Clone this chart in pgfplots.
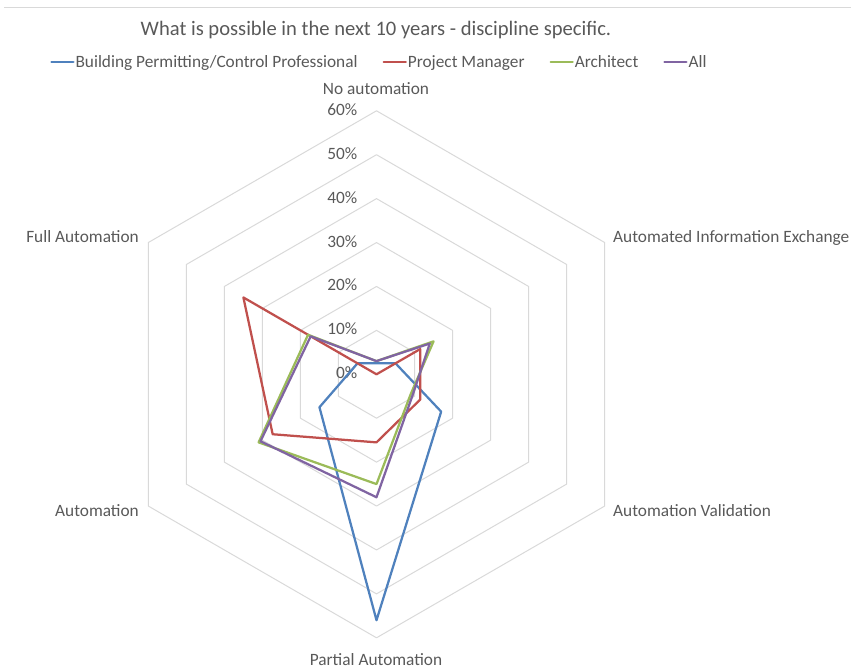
\documentclass[border=0pt]{standalone}
\usepackage{fontspec}
\setmainfont{Carlito}
\usepackage{pgfplots}
\pgfplotsset{compat=1.18}
\usepgfplotslibrary{polar}

\definecolor{bpc}{HTML}{4F81BD}
\definecolor{pmc}{HTML}{C0504D}
\definecolor{arc}{HTML}{9BBB59}
\definecolor{allc}{HTML}{8064A2}
\definecolor{ring}{HTML}{D9D9D9}
\definecolor{txt}{HTML}{595959}

\newcommand{\lbl}{\fontsize{17.3bp}{20bp}\selectfont}
\newcommand{\ttl}{\fontsize{20.6bp}{24bp}\selectfont}
% space after a legend entry
\newcommand{\gap}{\rule{24bp}{0pt}}

\begin{document}
\begin{tikzpicture}[x=1bp,y=1bp]
\useasboundingbox (0,0) rectangle (851,669);
\draw[ring, line width=1bp] (4,661) -- (851,661);

% Radar chart: angle = category direction, radius = share in percent
\begin{polaraxis}[
  at={(376.5bp,294.7bp)}, anchor=center,
  scale only axis, width=527bp, height=527bp,
  xmin=0, xmax=360, ymin=0, ymax=60,
  axis line style={draw=none},
  xtick=\empty, ytick=\empty, grid=none,
  clip=false,
  legend columns=4,
  legend style={draw=none, fill=none, at={(-0.125,1.0922)}, anchor=west,
    font=\lbl, text=txt, nodes={inner xsep=1bp, inner ysep=0bp}},
  legend image code/.code={\draw[#1] (0bp,0bp) -- (22bp,0bp);},
  every axis plot/.append style={line join=round, line cap=round},
]
% hexagonal grid rings
\pgfplotsinvokeforeach{10,20,30,40,50,60}{
  \addplot[ring, line width=1bp, forget plot] coordinates
    {(90,#1) (30,#1) (330,#1) (270,#1) (210,#1) (150,#1) (90,#1)};
}
% radial value labels
\pgfplotsinvokeforeach{0,10,20,30,40,50,60}{
  \node[anchor=base east, inner sep=0pt, text=txt, font=\lbl,
        xshift=-19bp, yshift=-4.5bp] at (axis cs:90,#1) {#1\%};
}
% order of categories: No automation (90), Automated Information Exchange (30),
% Automation Validation (330), Partial Automation (270), Automation (210),
% Full Automation (150)
\addplot[bpc, line width=2.25bp] coordinates
  {(90,2.5) (30,5) (330,17) (270,56) (210,15) (150,5) (90,2.5)};
\addlegendentry{Building Permitting/Control Professional\gap}
\addplot[pmc, line width=2.25bp] coordinates
  {(90,0) (30,11.5) (330,11.5) (270,15.5) (210,27.3) (150,35) (90,0)};
\addlegendentry{Project Manager\gap}
\addplot[arc, line width=2.25bp] coordinates
  {(90,3) (30,15) (330,9) (270,25) (210,31) (150,18) (90,3)};
\addlegendentry{Architect\gap}
\addplot[allc, line width=2.25bp] coordinates
  {(90,3) (30,14) (330,9.5) (270,28) (210,30.5) (150,17.3) (90,3)};
\addlegendentry{All}
\end{polaraxis}

% title and category labels
\node[anchor=base, inner sep=0pt, text=txt, font=\ttl] at (376,633)
  {What is possible in the next 10 years - discipline specific.};
\begin{scope}[every node/.style={inner sep=0pt, text=txt, font=\lbl}]
\node[anchor=base] at (376,574.5) {No automation};
\node[anchor=base east] at (139,426.5) {Full Automation};
\node[anchor=base east] at (139,152.5) {Automation};
\node[anchor=base west] at (613,426.5) {Automated Information Exchange};
\node[anchor=base west] at (613,152.5) {Automation Validation};
\node[anchor=base] at (376,3.3) {Partial Automation};
\end{scope}
\end{tikzpicture}
\end{document}
